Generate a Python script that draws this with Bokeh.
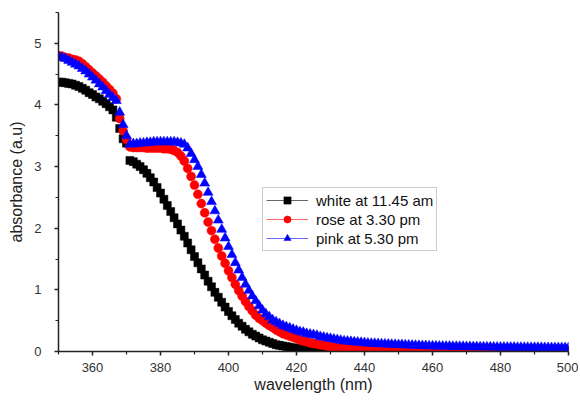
from bokeh.plotting import figure
from bokeh.models import ColumnDataSource, Legend, LegendItem, FixedTicker, Range1d
from bokeh.embed import file_html
from bokeh.resources import INLINE

wavelength = list(range(350, 501))

white_1145 = [
    4.37, 4.37, 4.36, 4.35, 4.34, 4.32, 4.30, 4.27, 4.24, 4.20,
    4.17, 4.13, 4.10, 4.06, 4.02, 3.97, 3.92, 3.80, 3.62, 3.45,
    3.38, 3.10, 3.08, 3.04, 3.00, 2.95, 2.89, 2.82, 2.75, 2.66,
    2.57, 2.47, 2.37, 2.27, 2.17, 2.07, 1.97, 1.87, 1.76, 1.65,
    1.54, 1.44, 1.34, 1.24, 1.14, 1.05, 0.96, 0.88, 0.80, 0.72,
    0.65, 0.58, 0.52, 0.46, 0.41, 0.36, 0.32, 0.28, 0.25, 0.22,
    0.19, 0.17, 0.15, 0.13, 0.11, 0.10, 0.09, 0.08, 0.07, 0.06,
    0.05, 0.045, 0.04, 0.035, 0.03, 0.03, 0.025, 0.025, 0.02, 0.02,
    0.02, 0.02, 0.02, 0.02, 0.02, 0.02, 0.02, 0.02, 0.02, 0.02,
    0.02, 0.02, 0.02, 0.02, 0.02, 0.02, 0.02, 0.02, 0.02, 0.02,
    0.02, 0.02, 0.02, 0.02, 0.02, 0.02, 0.02, 0.02, 0.02, 0.02,
    0.015, 0.015, 0.015, 0.015, 0.015, 0.015, 0.015, 0.015, 0.015, 0.015,
    0.015, 0.015, 0.015, 0.015, 0.015, 0.015, 0.015, 0.015, 0.015, 0.015,
    0.015, 0.015, 0.015, 0.015, 0.015, 0.015, 0.015, 0.015, 0.015, 0.015,
    0.015, 0.015, 0.015, 0.015, 0.015, 0.015, 0.015, 0.015, 0.015, 0.015,
    0.015,
]

rose_330 = [
    4.80, 4.79, 4.77, 4.76, 4.74, 4.73, 4.71, 4.67, 4.62, 4.57,
    4.52, 4.47, 4.42, 4.37, 4.31, 4.25, 4.19, 4.10, 3.78, 3.58,
    3.44, 3.32, 3.31, 3.31, 3.31, 3.31, 3.30, 3.30, 3.30, 3.30,
    3.30, 3.29, 3.29, 3.28, 3.26, 3.23, 3.17, 3.09, 2.97, 2.84,
    2.70, 2.55, 2.40, 2.25, 2.10, 1.96, 1.82, 1.68, 1.55, 1.43,
    1.31, 1.20, 1.09, 0.99, 0.90, 0.81, 0.73, 0.66, 0.59, 0.54,
    0.50, 0.46, 0.42, 0.39, 0.35, 0.32, 0.29, 0.27, 0.25, 0.23,
    0.21, 0.19, 0.17, 0.16, 0.14, 0.13, 0.12, 0.11, 0.10, 0.09,
    0.08, 0.07, 0.065, 0.06, 0.055, 0.05, 0.045, 0.04, 0.04, 0.035,
    0.035, 0.033, 0.032, 0.031, 0.03, 0.03, 0.03, 0.03, 0.03, 0.03,
    0.03, 0.03, 0.03, 0.03, 0.03, 0.03, 0.03, 0.03, 0.03, 0.03,
    0.025, 0.025, 0.025, 0.025, 0.025, 0.025, 0.025, 0.025, 0.025, 0.025,
    0.025, 0.025, 0.025, 0.025, 0.025, 0.025, 0.025, 0.025, 0.025, 0.025,
    0.025, 0.025, 0.025, 0.025, 0.025, 0.025, 0.025, 0.025, 0.025, 0.025,
    0.025, 0.025, 0.025, 0.025, 0.025, 0.025, 0.025, 0.025, 0.025, 0.025,
    0.025,
]

pink_530 = [
    4.79, 4.77, 4.75, 4.72, 4.69, 4.66, 4.63, 4.59, 4.55, 4.50,
    4.45, 4.40, 4.34, 4.29, 4.23, 4.17, 4.12, 4.07, 3.88, 3.68,
    3.50, 3.36, 3.37, 3.37, 3.38, 3.38, 3.39, 3.39, 3.40, 3.40,
    3.40, 3.40, 3.40, 3.40, 3.40, 3.39, 3.38, 3.36, 3.30, 3.21,
    3.11, 3.00, 2.87, 2.73, 2.58, 2.43, 2.28, 2.13, 1.98, 1.84,
    1.70, 1.57, 1.44, 1.32, 1.20, 1.09, 0.99, 0.90, 0.82, 0.74,
    0.67, 0.61, 0.56, 0.51, 0.48, 0.45, 0.42, 0.40, 0.38, 0.36,
    0.34, 0.32, 0.31, 0.29, 0.28, 0.27, 0.26, 0.24, 0.23, 0.22,
    0.21, 0.20, 0.19, 0.18, 0.17, 0.165, 0.16, 0.155, 0.15, 0.145,
    0.14, 0.135, 0.13, 0.128, 0.125, 0.122, 0.12, 0.118, 0.115, 0.112,
    0.11, 0.108, 0.105, 0.103, 0.10, 0.098, 0.096, 0.094, 0.092, 0.09,
    0.088, 0.087, 0.086, 0.085, 0.084, 0.083, 0.082, 0.081, 0.08, 0.079,
    0.078, 0.077, 0.076, 0.075, 0.074, 0.073, 0.072, 0.071, 0.07, 0.07,
    0.069, 0.068, 0.068, 0.067, 0.067, 0.066, 0.066, 0.065, 0.065, 0.064,
    0.064, 0.063, 0.063, 0.062, 0.062, 0.061, 0.061, 0.06, 0.06, 0.06,
    0.06,
]

series_labels = ["white at 11.45 am", "rose at 3.30 pm", "pink at 5.30 pm"]
x_ticks = [360, 380, 400, 420, 440, 460, 480, 500]
x_minor = [350, 370, 390, 410, 430, 450, 470, 490]
y_ticks = [0, 1, 2, 3, 4, 5]
y_minor = [0.5, 1.5, 2.5, 3.5, 4.5, 5.5]

FONT = "Liberation Sans"

p = figure(width=578, height=398, output_backend="svg", toolbar_location=None,
           x_range=Range1d(350, 500), y_range=Range1d(0, 5.5),
           min_border_left=58, min_border_right=10, min_border_top=12,
           min_border_bottom=47)
p.outline_line_color = None
p.xgrid.visible = False
p.ygrid.visible = False
p.background_fill_color = "white"
p.border_fill_color = "white"

src = ColumnDataSource(dict(x=wavelength, w=white_1145, r=rose_330, b=pink_530))

specs = [
    ("w", "#000000", "square", 8),
    ("r", "#ff0000", "circle", 9),
    ("b", "#0000ff", "triangle", 10),
]
items = []
for (col, color, marker, size), label in zip(specs, series_labels):
    sc = p.scatter(x="x", y=col, source=src, marker=marker, size=size,
                   fill_color=color, line_color=color, line_width=0.5)
    ln = p.line(x=[float("nan")], y=[float("nan")], line_color=color,
                line_width=1, line_alpha=0.6)
    items.append(LegendItem(label=label, renderers=[ln, sc]))

legend = Legend(items=items, location=(204, 100))
legend.glyph_width = 42
legend.glyph_height = 18
legend.label_height = 18
legend.label_text_font = FONT
legend.label_text_font_size = "15px"
legend.label_text_color = "#111111"
legend.label_standoff = 8
legend.padding = 3
legend.spacing = 1
legend.margin = 0
legend.border_line_color = "#999999"
legend.border_line_width = 1
legend.background_fill_color = "white"
p.add_layout(legend)

p.xaxis.ticker = FixedTicker(ticks=x_ticks, minor_ticks=x_minor)
p.yaxis.ticker = FixedTicker(ticks=y_ticks, minor_ticks=y_minor)
p.xaxis.axis_label = "wavelength (nm)"
p.yaxis.axis_label = "absorbance (a.u)"
for ax in (p.xaxis[0], p.yaxis[0]):
    ax.axis_line_color = "#222222"
    ax.axis_line_width = 1.5
    ax.major_tick_line_color = "#222222"
    ax.minor_tick_line_color = "#222222"
    ax.major_tick_line_width = 1.5
    ax.minor_tick_line_width = 1.2
    ax.major_tick_out = 4
    ax.major_tick_in = 0
    ax.minor_tick_out = 3
    ax.minor_tick_in = 0
    ax.major_label_text_font = FONT
    ax.major_label_text_font_size = "13px"
    ax.major_label_text_color = "#333333"
    ax.axis_label_text_font = FONT
    ax.axis_label_text_font_size = "16px"
    ax.axis_label_text_font_style = "normal"
    ax.axis_label_text_color = "#222222"
p.xaxis.major_label_standoff = 7
p.xaxis.axis_label_standoff = 1
p.yaxis.major_label_standoff = 13
p.yaxis.axis_label_standoff = 6

open("out.html", "w").write(file_html(p, INLINE))
